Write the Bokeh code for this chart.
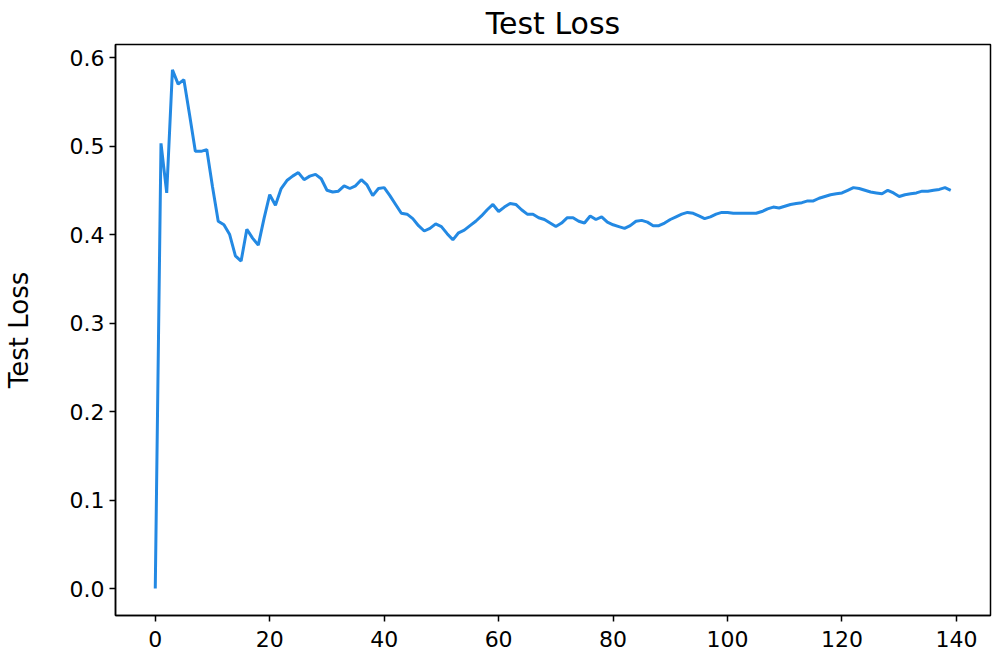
from bokeh.plotting import figure
from bokeh.models import FixedTicker, Range1d, ColumnDataSource
from bokeh.embed import file_html
from bokeh.resources import INLINE

epochs = list(range(140))
test_loss = [
    0.000, 0.503, 0.447, 0.586, 0.570, 0.575, 0.535, 0.494, 0.494, 0.496,
    0.454, 0.415, 0.411, 0.400, 0.376, 0.370, 0.406, 0.396, 0.388, 0.418,
    0.445, 0.433, 0.452, 0.461, 0.466, 0.470, 0.462, 0.466, 0.468, 0.463,
    0.450, 0.448, 0.449, 0.455, 0.452, 0.455, 0.462, 0.456, 0.444, 0.452,
    0.453, 0.444, 0.434, 0.424, 0.423, 0.418, 0.410, 0.404, 0.407, 0.412,
    0.409, 0.401, 0.394, 0.402, 0.405, 0.410, 0.415, 0.421, 0.428, 0.434,
    0.426, 0.431, 0.435, 0.434, 0.428, 0.423, 0.423, 0.419, 0.417, 0.413,
    0.409, 0.413, 0.419, 0.419, 0.415, 0.413, 0.421, 0.417, 0.420, 0.414,
    0.411, 0.409, 0.407, 0.410, 0.415, 0.416, 0.414, 0.410, 0.410, 0.413,
    0.417, 0.420, 0.423, 0.425, 0.424, 0.421, 0.418, 0.420, 0.423, 0.425,
    0.425, 0.424, 0.424, 0.424, 0.424, 0.424, 0.426, 0.429, 0.431, 0.430,
    0.432, 0.434, 0.435, 0.436, 0.438, 0.438, 0.441, 0.443, 0.445, 0.446,
    0.447, 0.450, 0.453, 0.452, 0.450, 0.448, 0.447, 0.446, 0.450, 0.447,
    0.443, 0.445, 0.446, 0.447, 0.449, 0.449, 0.450, 0.451, 0.453, 0.450,
]
x_ticks = [0, 20, 40, 60, 80, 100, 120, 140]
y_ticks = [0.0, 0.1, 0.2, 0.3, 0.4, 0.5, 0.6]
title_text = "Test Loss"
y_label = "Test Loss"

FONT = "DejaVu Sans"

p = figure(width=992, height=660, output_backend="svg", toolbar_location=None,
           x_range=Range1d(-6.95, 145.95), y_range=Range1d(-0.0304, 0.6147),
           min_border_left=115, min_border_right=2, min_border_top=43,
           min_border_bottom=45)

src = ColumnDataSource(dict(x=epochs, y=test_loss))
p.line("x", "y", source=src, line_color="#2389e3", line_width=3)

p.title.text = title_text
p.title.align = "center"
p.title.text_font = FONT
p.title.text_font_size = "30px"
p.title.text_font_style = "normal"
p.title.text_color = "black"
p.title.standoff = 7

p.xgrid.visible = False
p.ygrid.visible = False
p.outline_line_color = "black"
p.outline_line_width = 1.5
p.outline_line_alpha = 1

p.xaxis.ticker = FixedTicker(ticks=x_ticks)
p.yaxis.ticker = FixedTicker(ticks=y_ticks)
p.yaxis.major_label_overrides = {t: f"{t:.1f}" for t in y_ticks}
p.yaxis.axis_label = y_label

for ax in (p.xaxis[0], p.yaxis[0]):
    ax.axis_line_color = "black"
    ax.axis_line_width = 1.5
    ax.major_tick_line_color = "black"
    ax.major_tick_line_width = 1.5
    ax.major_tick_out = 6
    ax.major_tick_in = 0
    ax.minor_tick_line_color = None
    ax.major_label_text_font = FONT
    ax.major_label_text_font_size = "22px"
    ax.major_label_text_color = "black"

p.xaxis.major_label_standoff = 9
p.yaxis.major_label_standoff = 5
p.yaxis.axis_label_text_font = FONT
p.yaxis.axis_label_text_font_size = "26px"
p.yaxis.axis_label_text_font_style = "normal"
p.yaxis.axis_label_text_color = "black"
p.yaxis.axis_label_standoff = 33

open("out.html", "w").write(file_html(p, INLINE))
